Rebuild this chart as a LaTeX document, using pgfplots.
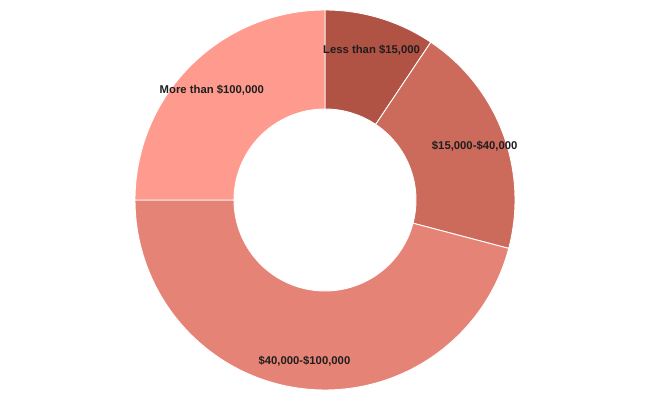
\documentclass[border=0pt]{standalone}
\usepackage{fontspec}
\setmainfont{Liberation Sans}
\usepackage{pgfplots}
\pgfplotsset{compat=1.18}
\definecolor{cA}{RGB}{176,82,68}
\definecolor{cB}{RGB}{204,106,92}
\definecolor{cC}{RGB}{230,131,119}
\definecolor{cD}{RGB}{255,155,142}
\definecolor{txt}{RGB}{30,30,30}
% shares in percent
\def\vA{9.4}
\def\vB{19.7}
\def\vC{45.9}
\def\vD{25.0}
\pgfmathsetmacro\aA{90}
\pgfmathsetmacro\aB{\aA-3.6*\vA}
\pgfmathsetmacro\aC{\aB-3.6*\vB}
\pgfmathsetmacro\aD{\aC-3.6*\vC}
\pgfmathsetmacro\aE{\aD-3.6*\vD}
\pgfmathsetmacro\mA{(\aA+\aB)/2}
\pgfmathsetmacro\mB{(\aB+\aC)/2}
\pgfmathsetmacro\mC{(\aC+\aD)/2}
\pgfmathsetmacro\mD{(\aD+\aE)/2}
\pgfmathsetmacro\xA{160*cos(\mA)}\pgfmathsetmacro\yA{160*sin(\mA)}
\pgfmathsetmacro\xB{160*cos(\mB)}\pgfmathsetmacro\yB{160*sin(\mB)}
\pgfmathsetmacro\xC{160*cos(\mC)}\pgfmathsetmacro\yC{160*sin(\mC)}
\pgfmathsetmacro\xD{160*cos(\mD)}\pgfmathsetmacro\yD{160*sin(\mD)}
\newcommand\slice[3]{%
  \addplot[fill=#1, draw=white, line width=0.9pt, samples at={0,...,201}, variable=\t]
  ({ ((\t<=100) ? 190 : 91) * cos( (\t<=100) ? ((#2)+((#3)-(#2))*\t/100) : ((#3)+((#2)-(#3))*(\t-101)/100) ) },
   { ((\t<=100) ? 190 : 91) * sin( (\t<=100) ? ((#2)+((#3)-(#2))*\t/100) : ((#3)+((#2)-(#3))*(\t-101)/100) ) }) -- cycle;
}
\begin{document}
\begin{tikzpicture}
\begin{axis}[x=1pt, y=1pt, xmin=-325, xmax=321, ymin=-196, ymax=200,
  hide axis, clip=false]
\path (axis cs:-325,-196) rectangle (axis cs:321,200);
\slice{cA}{\aA}{\aB}
\slice{cB}{\aB}{\aC}
\slice{cC}{\aC}{\aD}
\slice{cD}{\aD}{\aE}
\tikzset{lbl/.style={font=\fontsize{11.3}{13}\selectfont\bfseries, text=txt, inner sep=0pt, yshift=-3pt}}
\node[lbl] at (axis cs:\xA,\yA) {Less than \$15,000};
\node[lbl] at (axis cs:\xB,\yB) {\$15,000-\$40,000};
\node[lbl] at (axis cs:\xC,\yC) {\$40,000-\$100,000};
\node[lbl] at (axis cs:\xD,\yD) {More than \$100,000};
\end{axis}
\end{tikzpicture}
\end{document}
